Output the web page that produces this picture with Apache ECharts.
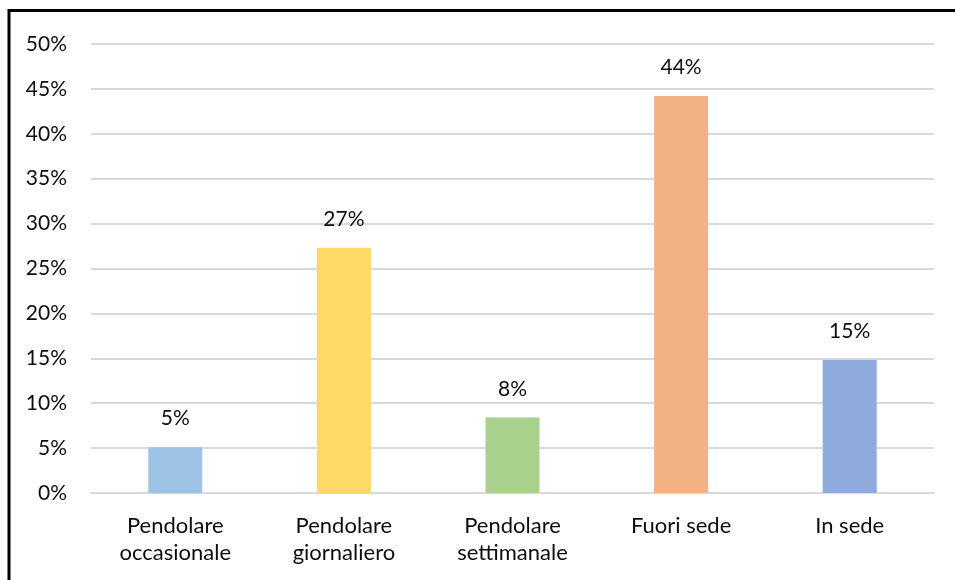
<!DOCTYPE html>
<html>
<head>
<meta charset="utf-8">
<script src="https://cdn.jsdelivr.net/npm/echarts@6/dist/echarts.min.js"></script>
<style>
  html, body { margin: 0; padding: 0; background: #fff; }
  #chart { width: 955px; height: 580px; }
</style>
</head>
<body>
<div id="chart"></div>
<script>
// Student housing / commuting categories and their shares (%)
const categories = ['Pendolare\noccasionale', 'Pendolare\ngiornaliero', 'Pendolare\nsettimanale', 'Fuori sede', 'In sede'];
const shares = [5.1, 27.3, 8.4, 44.2, 14.8];
const barColors = ['#9DC3E6', '#FFD966', '#A9D18E', '#F4B183', '#8FAADC'];
const yTicks = [0, 5, 10, 15, 20, 25, 30, 35, 40, 45, 50];

const FONT = 'Lato, "Open Sans", sans-serif';
const TEXT = '#0d0d0d';
const chart = echarts.init(document.getElementById('chart'), null, { renderer: 'canvas' });

chart.setOption({
  animation: false,
  backgroundColor: '#ffffff',
  graphic: [{
    type: 'rect',
    shape: { x: 9, y: 10.5, width: 1000, height: 700 },
    style: { fill: 'none', stroke: '#000', lineWidth: 3 },
    silent: true
  }],
  grid: { left: 91, right: 21, top: 44, bottom: 87, containLabel: false },
  xAxis: {
    type: 'category',
    data: categories,
    axisLine: { show: true, lineStyle: { color: '#d9d9d9', width: 2 } },
    axisTick: { show: false },
    axisLabel: {
      color: TEXT,
      fontFamily: FONT,
      fontSize: 22,
      lineHeight: 27,
      margin: 19,
      interval: 0
    }
  },
  yAxis: {
    type: 'value',
    min: yTicks[0],
    max: yTicks[yTicks.length - 1],
    interval: 5,
    axisLine: { show: false },
    axisTick: { show: false },
    splitLine: { lineStyle: { color: '#d9d9d9', width: 2 } },
    axisLabel: {
      color: TEXT,
      fontFamily: FONT,
      fontSize: 21,
      margin: 24,
      formatter: v => v + '%'
    }
  },
  series: [{
    type: 'bar',
    data: shares.map((v, i) => ({ value: v, itemStyle: { color: barColors[i] } })),
    barWidth: 54,
    label: {
      show: true,
      position: 'top',
      distance: 18,
      color: TEXT,
      fontFamily: FONT,
      fontSize: 21,
      formatter: p => Math.round(p.value) + '%'
    }
  }]
});
</script>
</body>
</html>
